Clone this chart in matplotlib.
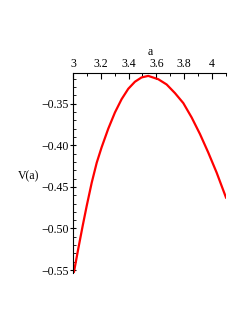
import numpy as np
import matplotlib.pyplot as plt
from matplotlib.ticker import MultipleLocator, FixedLocator

# values
a_vals = [3.0, 3.007, 3.038, 3.070, 3.099, 3.135, 3.171, 3.206, 3.254, 3.302,
          3.350, 3.398, 3.446, 3.494, 3.542, 3.614, 3.674, 3.734, 3.794, 3.854,
          3.914, 3.973, 4.034, 4.101]
v_vals = [-0.553, -0.5525, -0.5246, -0.4968, -0.4728, -0.4449, -0.4209, -0.4025, -0.3800, -0.3605,
          -0.3445, -0.3320, -0.3235, -0.3183, -0.3165, -0.3205, -0.3268, -0.3372, -0.3492, -0.3665,
          -0.3865, -0.4085, -0.4329, -0.4628]

x_ticks = [3, 3.2, 3.4, 3.6, 3.8, 4]
x_labels = ["3", "3.2", "3.4", "3.6", "3.8", "4"]
y_ticks = [-0.55, -0.50, -0.45, -0.40, -0.35]
y_labels = ["\u22120.55", "\u22120.50", "\u22120.45", "\u22120.40", "\u22120.35"]

plt.rcParams['font.family'] = ['Liberation Serif', 'DejaVu Serif']

fig = plt.figure(figsize=(2.49, 3.23), dpi=100)
ax = fig.add_axes([0.293, 0.155, 0.614, 0.619])

ax.plot(a_vals, v_vals, color="red", lw=1.6, solid_joinstyle="round")

ax.set_xlim(3.0, 4.1)
ax.set_ylim(-0.5535, -0.313)

for s in ["right", "bottom"]:
    ax.spines[s].set_visible(False)
for s in ["left", "top"]:
    ax.spines[s].set_linewidth(0.8)

ax.xaxis.tick_top()
ax.xaxis.set_major_locator(FixedLocator(x_ticks))
ax.set_xticklabels(x_labels)
ax.xaxis.set_minor_locator(MultipleLocator(0.1))
ax.yaxis.set_major_locator(FixedLocator(y_ticks))
ax.set_yticklabels(y_labels)
ax.yaxis.set_minor_locator(MultipleLocator(0.01))

ax.tick_params(axis="x", which="major", direction="in", length=4, width=0.8,
               labelsize=8.5, pad=2)
ax.tick_params(axis="x", which="minor", direction="in", length=2.5, width=0.7)
ax.tick_params(axis="y", which="major", direction="inout", length=4, width=0.8,
               labelsize=8.5, pad=1)
ax.tick_params(axis="y", which="minor", direction="in", length=2, width=0.6)

fig.text(0.603, 0.838, "a", fontsize=8.5, ha="center", va="center")
fig.text(0.115, 0.455, "V(a)", fontsize=8.5, ha="center", va="center")

fig.savefig("out.png", dpi=100)
